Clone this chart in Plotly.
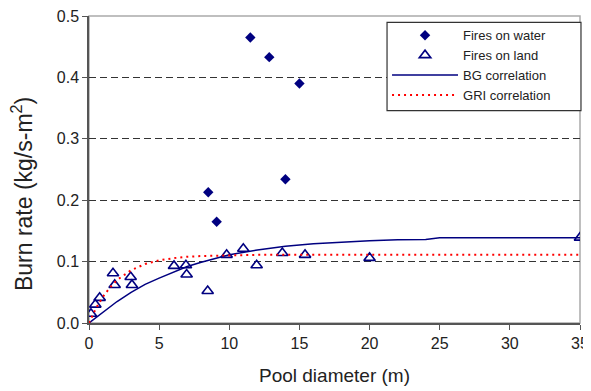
import plotly.graph_objects as go

# Fires on water
water_d = [11.5, 12.85, 15.0, 14.0, 8.5, 9.1]
water_rate = [0.465, 0.433, 0.390, 0.234, 0.213, 0.165]

# Fires on land
land_d = [0.14, 0.45, 0.76, 1.71, 1.83, 2.97, 3.06, 6.06, 6.91, 6.96, 8.46, 9.81, 11.0, 11.95, 13.78, 15.4, 20.0, 35.0]
land_rate = [0.015, 0.030, 0.041, 0.081, 0.062, 0.075, 0.062, 0.093, 0.094, 0.079, 0.052, 0.111, 0.121, 0.094, 0.114, 0.111, 0.106, 0.139]

# BG correlation
bg_d = [0, 1, 2, 3, 4, 5, 6, 7, 8, 9, 10, 12, 14, 16, 18, 20, 22, 24, 25, 35]
bg_rate = [0.0, 0.018, 0.035, 0.050, 0.063, 0.073, 0.083, 0.092, 0.099, 0.105, 0.111, 0.119, 0.125, 0.129, 0.132, 0.134, 0.1355, 0.136, 0.139, 0.139]

# GRI correlation
gri_d = [0, 0.5, 1, 1.5, 2, 3, 4, 5, 6, 7, 8, 10, 12, 15, 20, 25, 30, 35]
gri_rate = [0.0, 0.024, 0.043, 0.058, 0.070, 0.086, 0.096, 0.102, 0.1055, 0.108, 0.109, 0.110, 0.111, 0.111, 0.111, 0.111, 0.111, 0.111]

x_ticks = [0, 5, 10, 15, 20, 25, 30, 35]
y_ticks = [0.0, 0.1, 0.2, 0.3, 0.4, 0.5]

NAVY = "#000080"
FONT = "Liberation Sans, Arial, sans-serif"

fig = go.Figure()
fig.add_trace(go.Scatter(x=water_d, y=water_rate, mode="markers", name="Fires on water",
                         marker=dict(symbol="diamond", size=8, color=NAVY)))
fig.add_trace(go.Scatter(x=land_d, y=land_rate, mode="markers", name="Fires on land",
                         marker=dict(symbol="triangle-up-open", size=10, color=NAVY,
                                     line=dict(width=1.6, color=NAVY))))
fig.add_trace(go.Scatter(x=bg_d, y=bg_rate, mode="lines", name="BG correlation",
                         line=dict(color=NAVY, width=1.5)))
fig.add_trace(go.Scatter(x=gri_d, y=gri_rate, mode="lines", name="GRI correlation",
                         line=dict(color="#FF0000", width=2, dash="2px,4px")))

# page body has an 8px default margin, so the figure is 8px smaller
fig.update_layout(
    width=583, height=383,
    margin=dict(l=81, r=11, t=8, b=68),
    paper_bgcolor="white", plot_bgcolor="white",
    font=dict(family=FONT, color="#222"),
    showlegend=True,
    legend=dict(x=0.607, y=0.986, xanchor="left", yanchor="top",
                borderwidth=0, bgcolor="rgba(0,0,0,0)",
                font=dict(size=13, family=FONT, color="#222"),
                tracegroupgap=0, itemwidth=66),
    xaxis=dict(range=[0, 35], tickvals=x_ticks, showgrid=False, zeroline=False,
               automargin=False, ticklabeloverflow="allow",
               showline=True, linecolor="#555", linewidth=1.5,
               ticks="outside", ticklen=5, tickcolor="#555",
               tickfont=dict(size=16, family=FONT, color="#222"),
               title=dict(text="Pool diameter (m)", font=dict(size=19, family=FONT, color="#222"), standoff=18)),
    yaxis=dict(range=[0, 0.5], tickvals=y_ticks, tickformat=".1f", zeroline=False,
               automargin=False, ticklabeloverflow="allow",
               showgrid=True, gridcolor="#333", gridwidth=1, griddash="7px,4px",
               showline=True, linecolor="#555", linewidth=1.5,
               ticks="outside", ticklen=5, tickcolor="#555",
               tickfont=dict(size=16, family=FONT, color="#222")),
    annotations=[dict(text="Burn rate (kg/s-m<sup>2</sup>)", textangle=-90,
                      xref="paper", yref="paper", x=-0.1364, y=0.42,
                      xanchor="center", yanchor="middle", showarrow=False,
                      font=dict(size=23, family=FONT, color="#222"))],
    shapes=[
        dict(type="rect", xref="paper", yref="paper", x0=0, x1=1, y0=0, y1=1,
             line=dict(color="#aaa", width=1.5), layer="below"),
        # legend frame
        dict(type="rect", xref="paper", yref="paper", x0=0.607, x1=1.002, y0=0.692, y1=0.979,
             line=dict(color="#333", width=1.2), fillcolor="white", layer="above"),
    ],
)

fig.write_html("out.html")
